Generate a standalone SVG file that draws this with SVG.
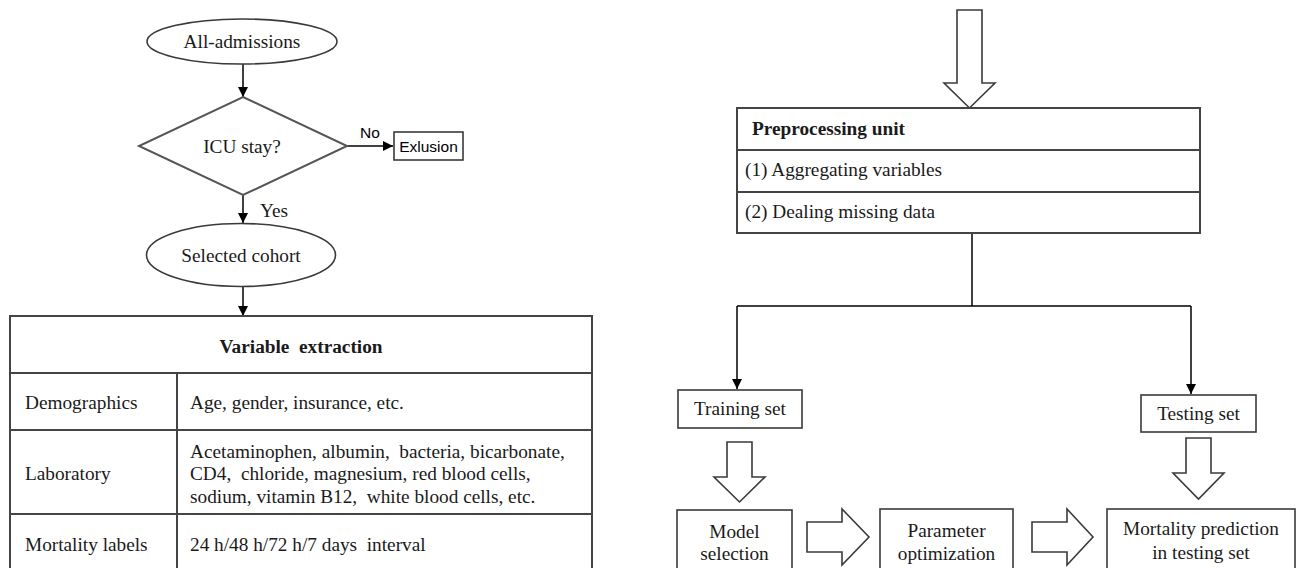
<svg xmlns="http://www.w3.org/2000/svg" width="1297" height="568" viewBox="0 0 1297 568">
<style>
.s{fill:#fff;stroke:#3a3a3a;stroke-width:1.6}
.d{fill:#fff;stroke:#555;stroke-width:2}
.t{font-family:"Liberation Serif","Times New Roman",serif;font-size:19.3px;fill:#1a1a1a}
.b{font-weight:bold}
.m{text-anchor:middle}
.a{font-family:"Liberation Sans",Arial,sans-serif;font-size:15.5px;fill:#000}
.c{fill:none;stroke:#000;stroke-width:1.5}
.g{fill:none;stroke:#444;stroke-width:2}
</style>
<defs>
<marker id="ah" viewBox="0 0 10 10" refX="10" refY="5" markerWidth="10" markerHeight="10" markerUnits="userSpaceOnUse" orient="auto">
<path d="M0,0 L10,5 L0,10 Z" fill="#000"/>
</marker>
</defs>
<rect width="1297" height="568" fill="#fff"/>
<g id="connectors">
<line class="c" x1="243" y1="64" x2="243" y2="97" marker-end="url(#ah)"/>
<line class="c" x1="347" y1="146" x2="393" y2="146" marker-end="url(#ah)"/>
<line class="c" x1="243" y1="195" x2="243" y2="223" marker-end="url(#ah)"/>
<line class="c" x1="243" y1="287" x2="243" y2="316" marker-end="url(#ah)"/>
<path class="c" d="M972,233 V306"/>
<path class="c" d="M737,306 H1191"/>
<line class="c" x1="737" y1="306" x2="737" y2="389" marker-end="url(#ah)"/>
<line class="c" x1="1191" y1="306" x2="1191" y2="394" marker-end="url(#ah)"/>
<polygon class="s" points="957,10 982,10 982,83 995,83 969.5,108 944,83 957,83"/>
<polygon class="s" points="727,442 752,442 752,477 765,477 739.5,502 714,477 727,477"/>
<polygon class="s" points="1186,438 1211,438 1211,473 1224,473 1198.5,499 1173,473 1186,473"/>
<polygon class="s" points="807,522 842,522 842,509 869,537 842,565 842,552 807,552"/>
<polygon class="s" points="1032,522 1067,522 1067,509 1093,537 1067,565 1067,552 1032,552"/>
</g>
<g id="n-all">
<ellipse class="s" cx="242" cy="41.5" rx="95" ry="22.5"/>
<text class="t m" x="242" y="48">All-admissions</text>
</g>
<g id="n-icu">
<polygon class="d" points="243,97 347,146 243,195 139,146"/>
<text class="t m" x="242" y="153">ICU stay?</text>
<text class="a" x="360" y="138">No</text>
<text class="t" x="260" y="217">Yes</text>
</g>
<g id="n-exl">
<rect class="s" x="394" y="132" width="69" height="28"/>
<text class="a m" x="428.5" y="151.5">Exlusion</text>
</g>
<g id="n-sel">
<ellipse class="s" cx="241" cy="255" rx="94.5" ry="31.5"/>
<text class="t m" x="241" y="262">Selected cohort</text>
</g>
<g id="n-table">
<rect class="g" x="10" y="316" width="582" height="270"/>
<line class="g" x1="10" y1="373" x2="592" y2="373"/>
<line class="g" x1="10" y1="430" x2="592" y2="430"/>
<line class="g" x1="10" y1="514" x2="592" y2="514"/>
<line class="g" x1="177" y1="373" x2="177" y2="586"/>
<text class="t b m" x="301" y="353" xml:space="preserve">Variable  extraction</text>
<text class="t" x="25" y="409">Demographics</text>
<text class="t" x="190" y="409">Age, gender, insurance, etc.</text>
<text class="t" x="25" y="480">Laboratory</text>
<text class="t" x="190" y="458" xml:space="preserve">Acetaminophen, albumin,  bacteria, bicarbonate,</text>
<text class="t" x="190" y="480" xml:space="preserve">CD4,  chloride, magnesium, red blood cells,</text>
<text class="t" x="190" y="503" xml:space="preserve">sodium, vitamin B12,  white blood cells, etc.</text>
<text class="t" x="25" y="551">Mortality labels</text>
<text class="t" x="190" y="551" xml:space="preserve">24 h/48 h/72 h/7 days  interval</text>
</g>
<g id="n-pre">
<rect class="g" x="737" y="108" width="463" height="125"/>
<line class="g" x1="737" y1="150" x2="1200" y2="150"/>
<line class="g" x1="737" y1="192" x2="1200" y2="192"/>
<text class="t b" x="752" y="135">Preprocessing unit</text>
<text class="t" x="745" y="176">(1) Aggregating variables</text>
<text class="t" x="745" y="218">(2) Dealing missing data</text>
</g>
<g id="n-train">
<rect class="s" x="678" y="390" width="124" height="38"/>
<text class="t m" x="740" y="415">Training set</text>
</g>
<g id="n-test">
<rect class="s" x="1141" y="395" width="115" height="37"/>
<text class="t m" x="1198.5" y="420">Testing set</text>
</g>
<g id="n-model">
<rect class="s" x="677" y="510" width="115" height="70"/>
<text class="t m" x="734.5" y="538">Model</text>
<text class="t m" x="734.5" y="560">selection</text>
</g>
<g id="n-param">
<rect class="s" x="880" y="509" width="133" height="70"/>
<text class="t m" x="946.5" y="537">Parameter</text>
<text class="t m" x="946.5" y="560">optimization</text>
</g>
<g id="n-mort">
<rect class="s" x="1107" y="509" width="188" height="70"/>
<text class="t m" x="1201" y="535">Mortality prediction</text>
<text class="t m" x="1201" y="559">in testing set</text>
</g>
</svg>
